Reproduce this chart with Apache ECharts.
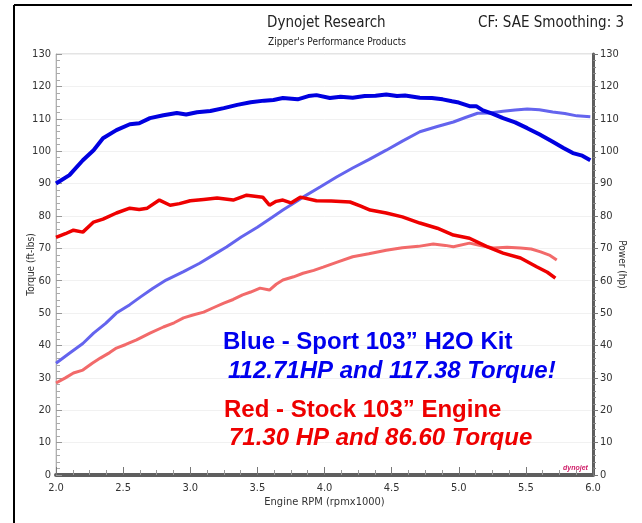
<!DOCTYPE html>
<html>
<head>
<meta charset="utf-8">
<script src="https://cdn.jsdelivr.net/npm/echarts@6/dist/echarts.min.js"></script>
<style>
html,body{margin:0;padding:0;background:#fff;}
#c{width:642px;height:523px;}
</style>
</head>
<body>
<div id="c"></div>
<script>
// ---- data (RPM x1000, value) ----
var blueTqRpm = [2.0,2.1,2.2,2.28,2.35,2.45,2.55,2.62,2.7,2.8,2.9,2.97,3.05,3.15,3.25,3.35,3.45,3.55,3.62,3.69,3.8,3.88,3.94,4.04,4.12,4.21,4.3,4.38,4.46,4.54,4.6,4.71,4.8,4.88,4.95,5.0,5.08,5.13,5.18,5.25,5.33,5.42,5.51,5.6,5.7,5.78,5.85,5.92,5.98];
var blueTq    = [90,92.6,97.2,100.3,104,106.5,108.3,108.6,110.2,111.1,111.8,111.3,112.0,112.4,113.3,114.3,115.1,115.6,115.8,116.4,116.0,117.0,117.3,116.4,116.8,116.5,117.0,117.1,117.5,117.0,117.2,116.5,116.4,116,115.4,115,113.9,113.9,112.6,111.6,110.2,108.9,107.1,105.2,102.9,101.0,99.4,98.6,97.2];

var bluePwrRpm = [2.0,2.1,2.2,2.28,2.37,2.45,2.55,2.63,2.72,2.82,2.95,3.07,3.17,3.27,3.38,3.5,3.6,3.69,3.77,3.84,3.97,4.09,4.21,4.33,4.46,4.58,4.71,4.84,4.96,5.05,5.14,5.23,5.33,5.42,5.51,5.6,5.7,5.79,5.88,5.98];
var bluePwr    = [34.5,37.6,40.6,43.8,46.8,50,52.6,55,57.6,60.2,62.8,65.4,67.9,70.4,73.5,76.5,79.3,81.8,83.9,85.8,89,92,94.8,97.4,100.3,103.1,106,107.6,109,110.4,111.7,111.8,112.3,112.7,113,112.8,112.1,111.6,110.9,110.6];

var redTqRpm = [2.0,2.07,2.13,2.2,2.28,2.35,2.45,2.55,2.62,2.68,2.77,2.85,2.92,3.0,3.1,3.2,3.32,3.42,3.54,3.59,3.64,3.69,3.75,3.82,3.94,4.05,4.19,4.27,4.34,4.46,4.58,4.71,4.84,4.96,5.08,5.21,5.33,5.46,5.58,5.66,5.72];
var redTq    = [73.4,74.5,75.6,75.0,78.1,79.0,80.9,82.4,82.0,82.4,84.9,83.3,83.8,84.7,85.1,85.5,84.9,86.4,85.8,83.3,84.5,84.9,84.0,85.8,84.7,84.6,84.3,83.0,81.8,80.9,79.7,77.8,76.2,74.1,73.1,70.5,68.5,67.0,64.3,62.6,60.8];

var redPwrRpm = [2.0,2.07,2.13,2.2,2.27,2.33,2.4,2.45,2.52,2.6,2.7,2.8,2.88,2.95,3.02,3.1,3.18,3.25,3.32,3.39,3.45,3.52,3.59,3.64,3.69,3.77,3.84,3.92,3.99,4.1,4.21,4.33,4.46,4.58,4.7,4.81,4.9,4.96,5.08,5.17,5.26,5.36,5.46,5.54,5.61,5.68,5.73];
var redPwr    = [28.4,30.0,31.5,32.4,34.5,36.1,37.8,39.2,40.3,41.7,43.8,45.7,47.0,48.5,49.4,50.3,51.8,53.1,54.2,55.6,56.5,57.7,57.1,58.9,60.2,61.2,62.3,63.2,64.2,65.8,67.4,68.3,69.4,70.2,70.6,71.3,70.9,70.5,71.6,70.8,70.1,70.3,70.1,69.8,68.9,67.8,66.4];

var xTickLabels = ['2.0','2.5','3.0','3.5','4.0','4.5','5.0','5.5','6.0'];

function pairs(xs, ys){ return xs.map(function(x,i){ return [x, ys[i]]; }); }

var chart = echarts.init(document.getElementById('c'), null, {renderer:'canvas'});
var tickFont = '"DejaVu Sans Condensed", "DejaVu Sans", sans-serif';
var bigFont = '"Liberation Sans", Arial, sans-serif';

function t(text, left, top, size, color, weight, style, family){
  return {text:text, left:left, top:top, padding:0, itemGap:0, z:20,
    textStyle:{fontSize:size, color:color, fontWeight:weight||'normal', fontStyle:style||'normal', fontFamily:family}};
}

var option = {
  backgroundColor: '#ffffff',
  animation: false,
  title: [
    t('Dynojet Research', 267, 16, 15, '#222', 'normal', 'normal', tickFont),
    t("Zipper's Performance Products", 268, 37, 10, '#222', 'normal', 'normal', tickFont),
    t('CF: SAE Smoothing: 3', 478, 16, 15, '#222', 'normal', 'normal', tickFont),
    t('Blue - Sport 103\u201D H2O Kit', 223, 330, 24, '#0000ee', 'bold', 'normal', bigFont),
    t('112.71HP and 117.38 Torque!', 228, 359, 24, '#0000ee', 'bold', 'italic', bigFont),
    t('Red - Stock 103\u201D Engine', 224, 398, 24, '#ee0000', 'bold', 'normal', bigFont),
    t('71.30 HP and 86.60 Torque', 229, 426, 24, '#ee0000', 'bold', 'italic', bigFont),
    t('dynojet', 563, 465, 7, '#d0206a', 'bold', 'italic', bigFont)
  ],
  grid: {left:56, right:49, top:54, bottom:48, show:true, borderColor:'#c8c8c8', borderWidth:1},
  xAxis: {
    type:'value', min:2, max:6, interval:0.5,
    name:'Engine RPM (rpmx1000)', nameLocation:'middle', nameGap:22, nameMoveOverlap:false,
    nameTextStyle:{color:'#333', fontSize:11, fontFamily:tickFont},
    axisLine:{show:true, lineStyle:{color:'#5e5e5e', width:4}},
    axisTick:{show:true, inside:true, length:8, lineStyle:{color:'#777', width:1}},
    minorTick:{show:true, splitNumber:4, length:5, lineStyle:{color:'#999'}},
    splitLine:{show:false},
    axisLabel:{color:'#333', fontSize:11, fontFamily:tickFont, margin:8,
      formatter:function(v){ var i=Math.round((v-2)/0.5); return xTickLabels[i]||''; }}
  },
  yAxis: [
    {
      type:'value', min:0, max:130, interval:10, position:'left',
      name:'Torque (ft-lbs)', nameLocation:'middle', nameGap:20, nameMoveOverlap:false,
      nameTextStyle:{color:'#333', fontSize:10, fontFamily:tickFont},
      axisLine:{show:true, lineStyle:{color:'#b0b0b0', width:1}},
      axisTick:{show:true, inside:true, length:6, lineStyle:{color:'#999'}},
      minorTick:{show:true, splitNumber:5, length:4, lineStyle:{color:'#aaa'}},
      splitLine:{show:true, lineStyle:{color:'#f1f1f1', width:1}},
      axisLabel:{color:'#333', fontSize:11, fontFamily:tickFont, margin:5}
    },
    {
      type:'value', min:0, max:130, interval:10, position:'right',
      name:'Power (hp)', nameLocation:'middle', nameGap:24, nameRotate:-90, nameMoveOverlap:false,
      nameTextStyle:{color:'#333', fontSize:10, fontFamily:tickFont},
      axisLine:{show:true, lineStyle:{color:'#5e5e5e', width:3}},
      axisTick:{show:true, inside:false, length:5, lineStyle:{color:'#777'}},
      minorTick:{show:true, splitNumber:5, length:3, lineStyle:{color:'#888'}},
      splitLine:{show:false},
      axisLabel:{color:'#333', fontSize:11, fontFamily:tickFont, margin:7}
    }
  ],
  series: [
    {name:'Red Power', type:'line', yAxisIndex:1, showSymbol:false, silent:true,
     data:pairs(redPwrRpm, redPwr), lineStyle:{color:'#f26a6a', width:3}},
    {name:'Blue Power', type:'line', yAxisIndex:1, showSymbol:false, silent:true,
     data:pairs(bluePwrRpm, bluePwr), lineStyle:{color:'#6464ee', width:3}},
    {name:'Red Torque', type:'line', yAxisIndex:0, showSymbol:false, silent:true,
     data:pairs(redTqRpm, redTq), lineStyle:{color:'#ee0000', width:3.5}},
    {name:'Blue Torque', type:'line', yAxisIndex:0, showSymbol:false, silent:true,
     data:pairs(blueTqRpm, blueTq), lineStyle:{color:'#0000e0', width:4}}
  ],
  graphic: [
    {type:'line', shape:{x1:14,y1:5,x2:632,y2:5}, style:{stroke:'#000', lineWidth:2}},
    {type:'line', shape:{x1:14,y1:5,x2:14,y2:523}, style:{stroke:'#000', lineWidth:2}}
  ]
};
chart.setOption(option);
</script>
</body>
</html>
